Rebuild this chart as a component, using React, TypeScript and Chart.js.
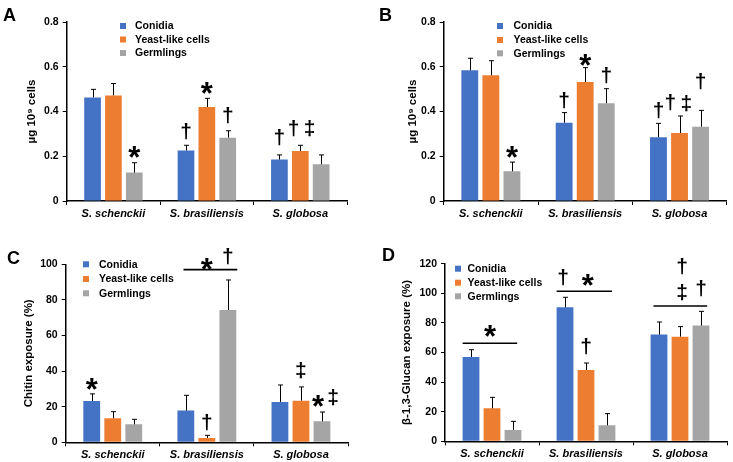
import React, { useEffect, useRef } from 'react';
import { Chart, registerables } from 'chart.js';
Chart.register(...registerables);

const FONT = '"Liberation Sans", Arial, Helvetica, sans-serif';

const CATEGORIES = ['S. schenckii', 'S. brasiliensis', 'S. globosa'];
const SERIES = ['Conidia', 'Yeast-like cells', 'Germlings'];
const COLORS = ['#4472C4', '#ED7D31', '#A5A5A5'];

// Panel A
const A_CONIDIA = [0.463, 0.226, 0.185];
const A_YEAST = [0.472, 0.42, 0.224];
const A_GERM = [0.127, 0.283, 0.164];
const A_CONIDIA_SD = [0.036, 0.023, 0.021];
const A_YEAST_SD = [0.053, 0.039, 0.025];
const A_GERM_SD = [0.044, 0.031, 0.042];

// Panel B
const B_CONIDIA = [0.584, 0.35, 0.285];
const B_YEAST = [0.562, 0.532, 0.304];
const B_GERM = [0.133, 0.437, 0.332];
const B_CONIDIA_SD = [0.054, 0.045, 0.062];
const B_YEAST_SD = [0.065, 0.064, 0.076];
const B_GERM_SD = [0.041, 0.065, 0.073];

// Panel C
const C_CONIDIA = [23.2, 17.8, 22.7];
const C_YEAST = [13.5, 2.4, 23.4];
const C_GERM = [10.1, 74.3, 11.8];
const C_CONIDIA_SD = [4.0, 8.6, 9.5];
const C_YEAST_SD = [3.7, 1.5, 7.7];
const C_GERM_SD = [2.8, 16.9, 5.2];

// Panel D
const D_CONIDIA = [57.0, 90.5, 72.1];
const D_YEAST = [22.3, 48.2, 70.7];
const D_GERM = [7.7, 10.8, 78.2];
const D_CONIDIA_SD = [4.9, 6.8, 8.5];
const D_YEAST_SD = [7.4, 4.7, 6.8];
const D_GERM_SD = [5.8, 7.9, 9.6];

// Y axes
const AB_MAX = 0.8, AB_STEP = 0.2;
const C_MAX = 100, C_STEP = 20;
const D_MAX = 120, D_STEP = 20;

// Significance marks: t=text, c=category, s=series, dx=offset in bar widths, y=value
const A_MARKS = [
  { t: '*', c: 0, s: 2, y: 0.22 },
  { t: '†', c: 1, s: 0, y: 0.31 },
  { t: '*', c: 1, s: 1, y: 0.504 },
  { t: '†', c: 1, s: 2, y: 0.384 },
  { t: '†', c: 2, s: 0, y: 0.286 },
  { t: '†', c: 2, s: 1, dx: -0.4, y: 0.325 },
  { t: '‡', c: 2, s: 2, dx: -0.7, y: 0.324 },
];
const B_MARKS = [
  { t: '*', c: 0, s: 2, y: 0.22 },
  { t: '†', c: 1, s: 0, y: 0.449 },
  { t: '*', c: 1, s: 1, y: 0.63 },
  { t: '†', c: 1, s: 2, y: 0.56 },
  { t: '†', c: 2, s: 0, y: 0.405 },
  { t: '†', c: 2, s: 1, dx: -0.55, y: 0.441 },
  { t: '‡', c: 2, s: 1, dx: 0.4, y: 0.434 },
  { t: '†', c: 2, s: 2, y: 0.534 },
];
const C_MARKS = [
  { t: '*', c: 0, s: 0, y: 32.6 },
  { t: '*', c: 1, s: 1, y: 100 },
  { t: '†', c: 1, s: 2, y: 104.5 },
  { t: '†', c: 1, s: 1, y: 11.2 },
  { t: '‡', c: 2, s: 1, y: 40.1 },
  { t: '*', c: 2, s: 2, dx: -0.24, y: 23.2 },
  { t: '‡', c: 2, s: 2, dx: 0.66, y: 25.1 },
];
const C_LINES = [{ c: 1, s0: 0, dx0: -0.14, s1: 2, dx1: 0.56, y: 97.0 }];
const D_MARKS = [
  { t: '*', c: 0, s: 1, dx: -0.12, y: 74.5 },
  { t: '†', c: 1, s: 0, dx: -0.12, y: 110.4 },
  { t: '*', c: 1, s: 1, dx: 0.1, y: 108.8 },
  { t: '†', c: 1, s: 1, y: 64.2 },
  { t: '†', c: 2, s: 1, dx: 0.12, y: 118 },
  { t: '‡', c: 2, s: 1, dx: 0.12, y: 100.5 },
  { t: '†', c: 2, s: 2, y: 103.2 },
];
const D_LINES = [
  { c: 0, s0: 0, dx0: -0.5, s1: 2, dx1: 0.25, y: 66.2 },
  { c: 1, s0: 0, dx0: -0.5, s1: 2, dx1: 0.3, y: 101.4 },
  { c: 2, s0: 0, dx0: -0.33, s1: 2, dx1: 0.37, y: 91.4 },
];

type Mark = { t: string; c: number; s: number; dx?: number; y: number };
type Line = { c: number; s0: number; dx0: number; s1: number; dx1: number; y: number };

type PanelCfg = {
  letter: string;
  letterX: number;
  letterY: number;
  left: number; top: number; w: number; h: number;
  areaLeft: number; areaRight: number; areaTop: number; areaBottom: number;
  values: number[][];
  errors: number[][];
  max: number; step: number; decimals: number;
  title: string; titleX: number;
  legendBox: number; legendText: number; legendRows: number[];
  marks: Mark[]; lines: Line[];
};

function makePlugin(p: PanelCfg) {
  return {
    id: 'panelExtras' + p.letter,
    afterDatasetsDraw(chart: any) {
      const ctx = chart.ctx as CanvasRenderingContext2D;
      const ys = chart.scales.y;
      const barAt = (s: number, c: number) => chart.getDatasetMeta(s).data[c];
      ctx.save();
      // error bars
      ctx.strokeStyle = '#000';
      ctx.lineWidth = 1;
      p.values.forEach((vals, s) => {
        vals.forEach((v, c) => {
          const bar = barAt(s, c);
          const top = ys.getPixelForValue(v + p.errors[s][c]);
          const x = Math.round(bar.x) + 0.5;
          ctx.beginPath();
          ctx.moveTo(x, bar.y);
          ctx.lineTo(x, top);
          ctx.moveTo(x - 2.5, top);
          ctx.lineTo(x + 2.5, top);
          ctx.stroke();
        });
      });
      // lines
      ctx.lineWidth = 1.6;
      p.lines.forEach((l) => {
        const b0 = barAt(l.s0, l.c), b1 = barAt(l.s1, l.c);
        const y = ys.getPixelForValue(l.y);
        ctx.beginPath();
        ctx.moveTo(b0.x + l.dx0 * b0.width, y);
        ctx.lineTo(b1.x + l.dx1 * b1.width, y);
        ctx.stroke();
      });
      // significance marks
      ctx.fillStyle = '#000';
      ctx.textAlign = 'center';
      ctx.textBaseline = 'alphabetic';
      p.marks.forEach((m) => {
        const b = barAt(m.s, m.c);
        const x = b.x + (m.dx || 0) * b.width;
        const cy = ys.getPixelForValue(m.y);
        ctx.font = m.t === '*' ? `bold 31px ${FONT}` : `bold 21px ${FONT}`;
        const tm = ctx.measureText(m.t);
        const base = cy + (tm.actualBoundingBoxAscent - tm.actualBoundingBoxDescent) / 2;
        ctx.fillText(m.t, x, base);
      });
      // legend
      ctx.textAlign = 'left';
      ctx.textBaseline = 'middle';
      ctx.font = `bold 10.5px ${FONT}`;
      chart.data.datasets.forEach((ds: any, i: number) => {
        const ry = p.legendRows[i];
        ctx.fillStyle = ds.backgroundColor;
        ctx.fillRect(p.legendBox, ry - 3, 6, 6);
        ctx.fillStyle = '#000';
        ctx.fillText(ds.label, p.legendText, ry + 0.5);
      });
      // panel letter
      ctx.font = `bold 18px ${FONT}`;
      ctx.textBaseline = 'alphabetic';
      ctx.fillText(p.letter, p.letterX, p.letterY);
      ctx.restore();
    },
  };
}

function Panel({ p }: { p: PanelCfg }) {
  const ref = useRef<HTMLCanvasElement>(null);
  useEffect(() => {
    const chart = new Chart(ref.current!, {
      type: 'bar',
      data: {
        labels: CATEGORIES,
        datasets: SERIES.map((name, i) => ({
          label: name,
          data: p.values[i],
          backgroundColor: COLORS[i],
          borderWidth: 0,
          categoryPercentage: 0.67,
          barPercentage: 0.8,
        })),
      },
      options: {
        responsive: false,
        animation: false,
        devicePixelRatio: 1,
        layout: { padding: { top: p.areaTop, right: p.w - p.areaRight, left: 0, bottom: 0 } },
        plugins: { legend: { display: false }, tooltip: { enabled: false } },
        scales: {
          x: {
            offset: true,
            grid: { display: true, drawOnChartArea: false, drawTicks: true, tickLength: 4, color: '#000', offset: true },
            border: { display: true, color: '#000', width: 1.5 },
            ticks: {
              color: '#000',
              font: { family: FONT, size: 11, weight: 'bold', style: 'italic' },
              padding: 2,
              maxRotation: 0,
              autoSkip: false,
            },
            afterFit: (s: any) => { s.height = p.h - p.areaBottom; },
          },
          y: {
            min: 0,
            max: p.max,
            ticks: {
              stepSize: p.step,
              color: '#000',
              font: { family: FONT, size: 10.5, weight: 'bold' },
              padding: 4,
              callback: (v: any) => (Number(v) === 0 ? '0' : Number(v).toFixed(p.decimals)),
            },
            grid: { display: true, drawOnChartArea: false, drawTicks: true, tickLength: 4, color: '#000' },
            border: { display: true, color: '#000', width: 1.5 },
            title: {
              display: true,
              text: p.title,
              color: '#000',
              font: { family: FONT, size: 11.5, weight: 'bold' },
              padding: { top: p.titleX - 7, bottom: 0 },
            },
            afterFit: (s: any) => { s.width = p.areaLeft; },
          },
        },
      } as any,
      plugins: [makePlugin(p)],
    });
    return () => chart.destroy();
  }, []);
  return (
    <div style={{ position: 'absolute', left: p.left, top: p.top, width: p.w, height: p.h }}>
      <canvas ref={ref} width={p.w} height={p.h} style={{ width: p.w, height: p.h, display: 'block' }} />
    </div>
  );
}

const PANELS: PanelCfg[] = [
  {
    letter: 'A', letterX: 3, letterY: 21,
    left: 0, top: 0, w: 366, h: 231,
    areaLeft: 66.7, areaRight: 347, areaTop: 22, areaBottom: 201,
    values: [A_CONIDIA, A_YEAST, A_GERM], errors: [A_CONIDIA_SD, A_YEAST_SD, A_GERM_SD],
    max: AB_MAX, step: AB_STEP, decimals: 1,
    title: 'µg 10⁹ cells', titleX: 32,
    legendBox: 120, legendText: 135, legendRows: [26, 39.5, 53],
    marks: A_MARKS, lines: [],
  },
  {
    letter: 'B', letterX: 13, letterY: 21,
    left: 366, top: 0, w: 367, h: 231,
    areaLeft: 77.7, areaRight: 360.7, areaTop: 22, areaBottom: 201,
    values: [B_CONIDIA, B_YEAST, B_GERM], errors: [B_CONIDIA_SD, B_YEAST_SD, B_GERM_SD],
    max: AB_MAX, step: AB_STEP, decimals: 1,
    title: 'µg 10⁹ cells', titleX: 46.5,
    legendBox: 131, legendText: 147.5, legendRows: [26, 40, 53.3],
    marks: B_MARKS, lines: [],
  },
  {
    letter: 'C', letterX: 7, letterY: 33,
    left: 0, top: 231, w: 366, h: 231,
    areaLeft: 65.7, areaRight: 348, areaTop: 33.3, areaBottom: 211.3,
    values: [C_CONIDIA, C_YEAST, C_GERM], errors: [C_CONIDIA_SD, C_YEAST_SD, C_GERM_SD],
    max: C_MAX, step: C_STEP, decimals: 0,
    title: 'Chitin exposure (%)', titleX: 29,
    legendBox: 83, legendText: 99, legendRows: [33.3, 48, 62.3],
    marks: C_MARKS, lines: C_LINES,
  },
  {
    letter: 'D', letterX: 16, letterY: 29.5,
    left: 366, top: 231, w: 367, h: 231,
    areaLeft: 79, areaRight: 361, areaTop: 32.7, areaBottom: 210.3,
    values: [D_CONIDIA, D_YEAST, D_GERM], errors: [D_CONIDIA_SD, D_YEAST_SD, D_GERM_SD],
    max: D_MAX, step: D_STEP, decimals: 0,
    title: 'β-1,3-Glucan exposure (%)', titleX: 41,
    legendBox: 89, legendText: 101.5, legendRows: [37.7, 51.7, 65.3],
    marks: D_MARKS, lines: D_LINES,
  },
];

export default function App() {
  return (
    <div style={{ position: 'absolute', left: 0, top: 0, width: 733, height: 462, background: '#fff', overflow: 'hidden' }}>
      {PANELS.map((p) => (
        <Panel key={p.letter} p={p} />
      ))}
    </div>
  );
}
